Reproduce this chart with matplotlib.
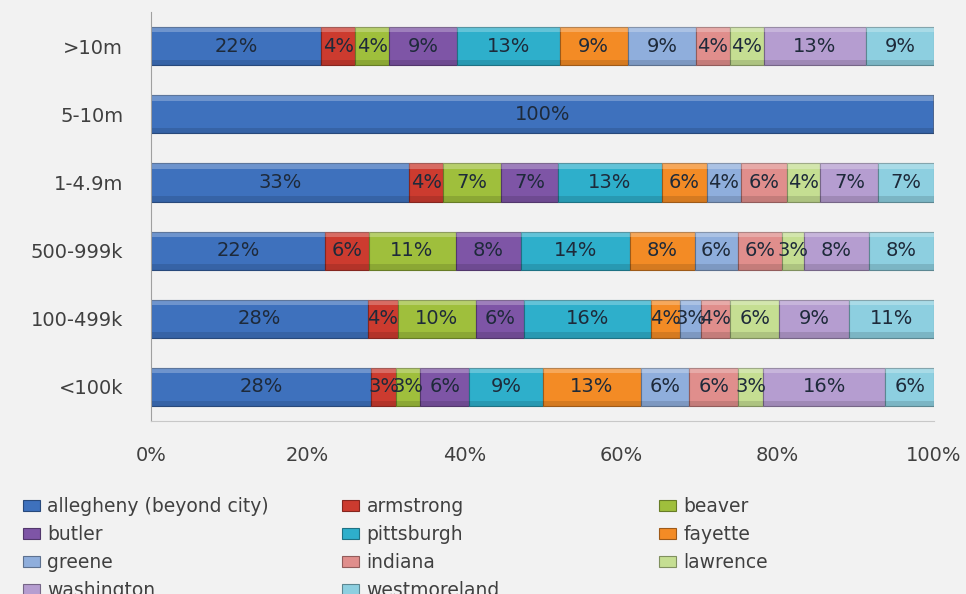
import matplotlib
matplotlib.use("Agg")
import matplotlib.pyplot as plt
import numpy as np
from matplotlib.colors import to_rgb

# size classes, top to bottom
categories = [">10m", "5-10m", "1-4.9m", "500-999k", "100-499k", "<100k"]

series_names = ["allegheny (beyond city)", "armstrong", "beaver", "butler",
                "pittsburgh", "fayette", "greene", "indiana", "lawrence",
                "washington", "westmoreland"]

# share of each county per size class (%)
allegheny = [21.74, 100, 33.0, 22.22, 27.7, 28.13]
armstrong = [4.35, 0, 4.3, 5.56, 3.8, 3.13]
beaver = [4.35, 0, 7.4, 11.11, 10.0, 3.13]
butler = [8.70, 0, 7.3, 8.33, 6.2, 6.25]
pittsburgh = [13.04, 0, 13.2, 13.89, 16.2, 9.38]
fayette = [8.70, 0, 5.8, 8.33, 3.7, 12.5]
greene = [8.70, 0, 4.3, 5.56, 2.6, 6.25]
indiana = [4.35, 0, 5.9, 5.56, 3.8, 6.25]
lawrence = [4.35, 0, 4.3, 2.78, 6.2, 3.13]
washington = [13.04, 0, 7.4, 8.33, 8.9, 15.63]
westmoreland = [8.70, 0, 7.1, 8.33, 10.9, 6.25]

values = [allegheny, armstrong, beaver, butler, pittsburgh, fayette,
          greene, indiana, lawrence, washington, westmoreland]

colors = ["#3e71bd", "#cc3b2f", "#9fbf3c", "#7e55a6", "#2eafcb", "#f38b25",
          "#8faedc", "#e08e8c", "#c5de92", "#b59dd0", "#8dcfe0"]

fig = plt.figure(figsize=(9.66, 5.94), dpi=100, facecolor="#f2f2f2")
ax = fig.add_axes([0.1563, 0.2912, 0.8106, 0.6886])
ax.set_facecolor("#f2f2f2")

y = np.arange(len(categories))
h = 0.56
left = np.zeros(len(categories))
handles = []
for name, vals, col in zip(series_names, values, colors):
    vals = np.array(vals, dtype=float)
    dark = tuple(c * 0.65 for c in to_rgb(col))
    bars = ax.barh(y, vals, left=left, height=h, color=col,
                   edgecolor=dark, linewidth=0.8, label=name)
    # rough bevel: light strip on top, shade at the bottom
    ax.barh(y - h / 2 + 0.04, vals, left=left, height=0.08,
            color="white", alpha=0.25, linewidth=0)
    ax.barh(y + h / 2 - 0.04, vals, left=left, height=0.08,
            color="black", alpha=0.12, linewidth=0)
    handles.append(bars)
    for yi, l, v in zip(y, left, vals):
        if v > 0:
            ax.text(l + v / 2, yi, f"{int(v + 0.5)}%", ha="center",
                    va="center", fontsize=14, color="#1e2a3a")
    left += vals

ax.set_xlim(0, 100)
ax.set_ylim(len(categories) - 0.5, -0.5)
ax.set_yticks(y, categories)
ticks = [0, 20, 40, 60, 80, 100]
ax.set_xticks(ticks, [f"{t}%" for t in ticks])
ax.tick_params(axis="x", length=0, pad=18, labelsize=14, labelcolor="#404040")
ax.tick_params(axis="y", length=0, pad=20, labelsize=14, labelcolor="#404040")
for side in ["top", "right"]:
    ax.spines[side].set_visible(False)
ax.spines["left"].set_color("#a0a0a0")
ax.spines["bottom"].set_color("#c8c8c8")

# legend laid out in three columns, row by row like Excel
columns = [[0, 3, 6, 9], [1, 4, 7, 10], [2, 5, 8]]
col_x = [23 / 966, 342 / 966, 659 / 966]
for idx, x in zip(columns, col_x):
    fig.legend([handles[i] for i in idx], [series_names[i] for i in idx],
               loc="upper left", bbox_to_anchor=(x, 0.1636), frameon=False,
               fontsize=13.5, labelcolor="#404040", borderpad=0,
               borderaxespad=0, labelspacing=0.48, handlelength=0.9,
               handleheight=0.55, handletextpad=0.4)

fig.savefig("out.png", dpi=100, facecolor=fig.get_facecolor())
